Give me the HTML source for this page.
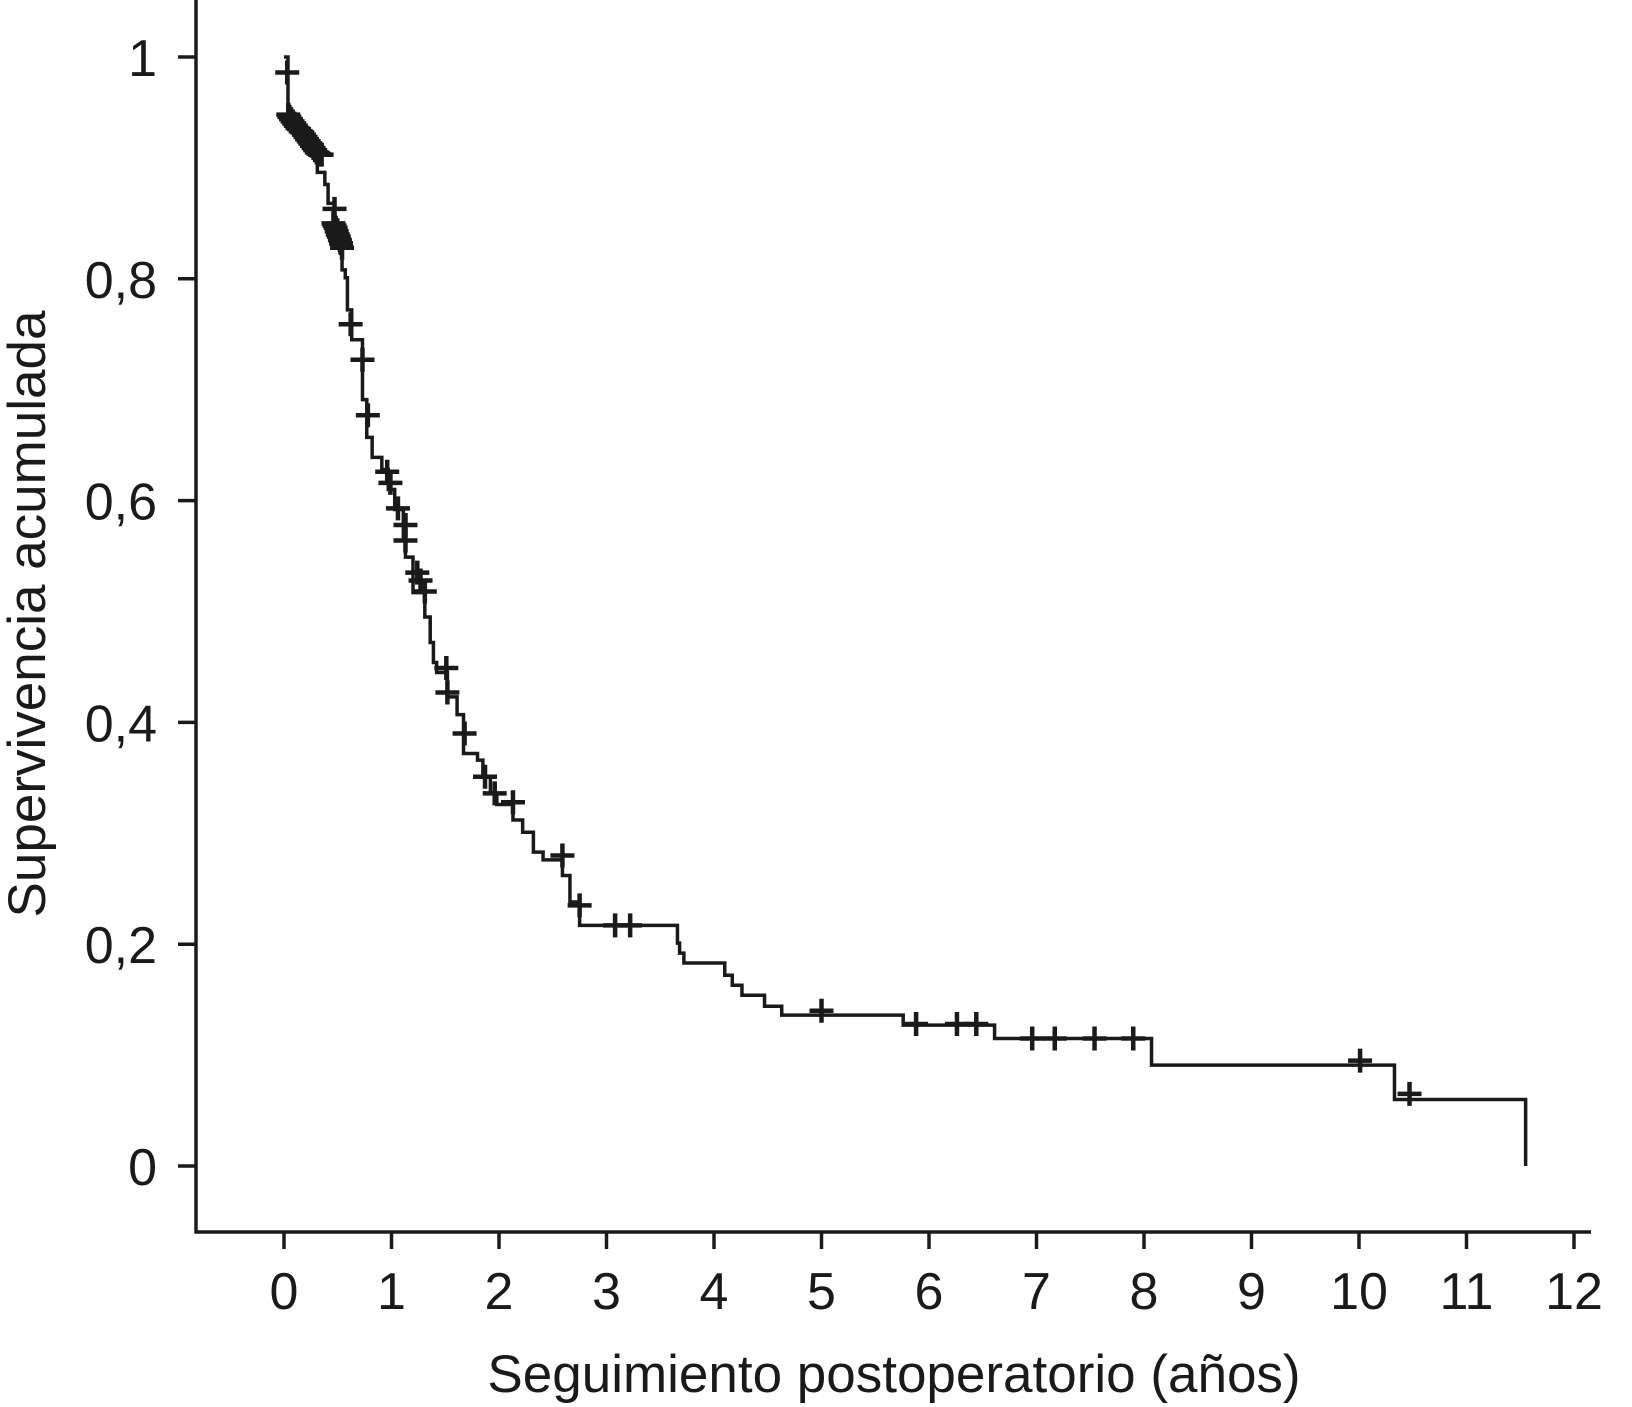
<!DOCTYPE html>
<html><head><meta charset="utf-8"><style>
html,body{margin:0;padding:0;background:#fff;}
svg{display:block;}
text{font-family:"Liberation Sans",Arial,sans-serif;fill:#1a1a1a;}
</style></head><body>
<svg id="chart" width="1632" height="1407" viewBox="0 0 1632 1407" xmlns="http://www.w3.org/2000/svg">
<g id="axes"></g>
<g id="plot"></g>
<text x="894" y="1392" font-size="53" text-anchor="middle">Seguimiento postoperatorio (años)</text>
<text transform="translate(45,614) rotate(-90)" font-size="53" text-anchor="middle">Supervivencia acumulada</text>
</svg>
<script>
const xTicks = [0,1,2,3,4,5,6,7,8,9,10,11,12];
const yTicks = [0,0.2,0.4,0.6,0.8,1];
const yTickLabels = ["0","0,2","0,4","0,6","0,8","1"];
const stepTimes = [0,0.037,0.06,0.09,0.12,0.15,0.18,0.21,0.25,0.29,0.31,0.38,0.41,0.47,0.50,0.52,0.54,0.57,0.59,0.63,0.73,0.77,0.82,0.91,0.97,1.03,1.11,1.13,1.20,1.31,1.36,1.39,1.42,1.52,1.61,1.67,1.80,1.85,1.92,1.98,2.13,2.22,2.32,2.41,2.59,2.66,2.75,3.66,3.68,3.72,4.10,4.17,4.26,4.47,4.63,5.76,6.61,8.07,10.33,11.55];
const stepSurv = [1,0.950,0.945,0.940,0.935,0.930,0.925,0.920,0.915,0.912,0.896,0.885,0.868,0.853,0.839,0.824,0.808,0.801,0.772,0.745,0.691,0.657,0.639,0.628,0.610,0.592,0.564,0.549,0.517,0.495,0.472,0.454,0.445,0.423,0.407,0.372,0.366,0.351,0.336,0.326,0.312,0.301,0.283,0.276,0.262,0.238,0.217,0.201,0.192,0.183,0.172,0.163,0.154,0.144,0.136,0.127,0.115,0.091,0.060,0];
const censorTimes = [0.03,0.04,0.05,0.065,0.08,0.095,0.11,0.125,0.14,0.155,0.17,0.185,0.20,0.215,0.23,0.245,0.26,0.275,0.29,0.305,0.32,0.335,0.35,0.47,0.46,0.47,0.48,0.49,0.50,0.51,0.52,0.53,0.54,0.62,0.73,0.78,0.96,0.99,1.06,1.13,1.13,1.24,1.27,1.31,1.51,1.52,1.68,1.87,1.96,2.13,2.59,2.75,3.08,3.22,5.0,5.88,6.26,6.44,6.96,7.17,7.54,7.9,10.01,10.47];
const censorSurv = [0.986,0.948,0.946,0.944,0.942,0.940,0.938,0.936,0.935,0.933,0.932,0.930,0.928,0.926,0.924,0.922,0.920,0.918,0.916,0.914,0.913,0.912,0.912,0.863,0.850,0.848,0.846,0.843,0.840,0.838,0.835,0.832,0.828,0.759,0.727,0.677,0.626,0.616,0.593,0.578,0.564,0.535,0.528,0.518,0.449,0.427,0.390,0.351,0.336,0.328,0.280,0.235,0.217,0.217,0.140,0.128,0.128,0.128,0.115,0.115,0.115,0.115,0.095,0.065];

const NS="http://www.w3.org/2000/svg";
const X = t => 284 + t*107.5;
const Y = s => 1166 - s*1109;
function mk(tag, attrs, parent){const e=document.createElementNS(NS,tag);for(const k in attrs)e.setAttribute(k,attrs[k]);parent.appendChild(e);return e;}
const axes=document.getElementById('axes'), plot=document.getElementById('plot');
const st={stroke:"#1a1a1a","stroke-width":3.5,fill:"none"};
let el=mk('line',Object.assign({x1:196,y1:0,x2:196,y2:1233},st),axes);


el=mk('line',Object.assign({x1:194.5,y1:1232,x2:1591,y2:1232},st),axes);


xTicks.forEach(t=>{
  let l=mk('line',Object.assign({x1:X(t),y1:1232,x2:X(t),y2:1249},st),axes);
  
  
  let tx=mk('text',{x:X(t),y:1309,"font-size":52,"text-anchor":"middle"},axes);
  tx.textContent=String(t);
  
  
});
yTicks.forEach((v,i)=>{
  let l=mk('line',Object.assign({x1:178,y1:Y(v),x2:196,y2:Y(v)},st),axes);
  
  
  let tx=mk('text',{x:157,y:Y(v)+19,"font-size":52,"text-anchor":"end"},axes);
  tx.textContent=yTickLabels[i];
  
  
});
let d="M"+X(stepTimes[0])+" "+Y(stepSurv[0]);
for(let i=1;i<stepTimes.length;i++){
  d+=" H"+X(stepTimes[i])+" V"+Y(stepSurv[i]);
}
el=mk('path',Object.assign({d:d},st),plot);


censorTimes.forEach((t,i)=>{
  const cx=X(t), cy=Y(censorSurv[i]);
  let c=mk('path',{d:`M${cx-12} ${cy} H${cx+12} M${cx} ${cy-12} V${cy+12}`,stroke:"#1a1a1a","stroke-width":4.5,fill:"none"},plot);
  
  
});
</script>
</body></html>
